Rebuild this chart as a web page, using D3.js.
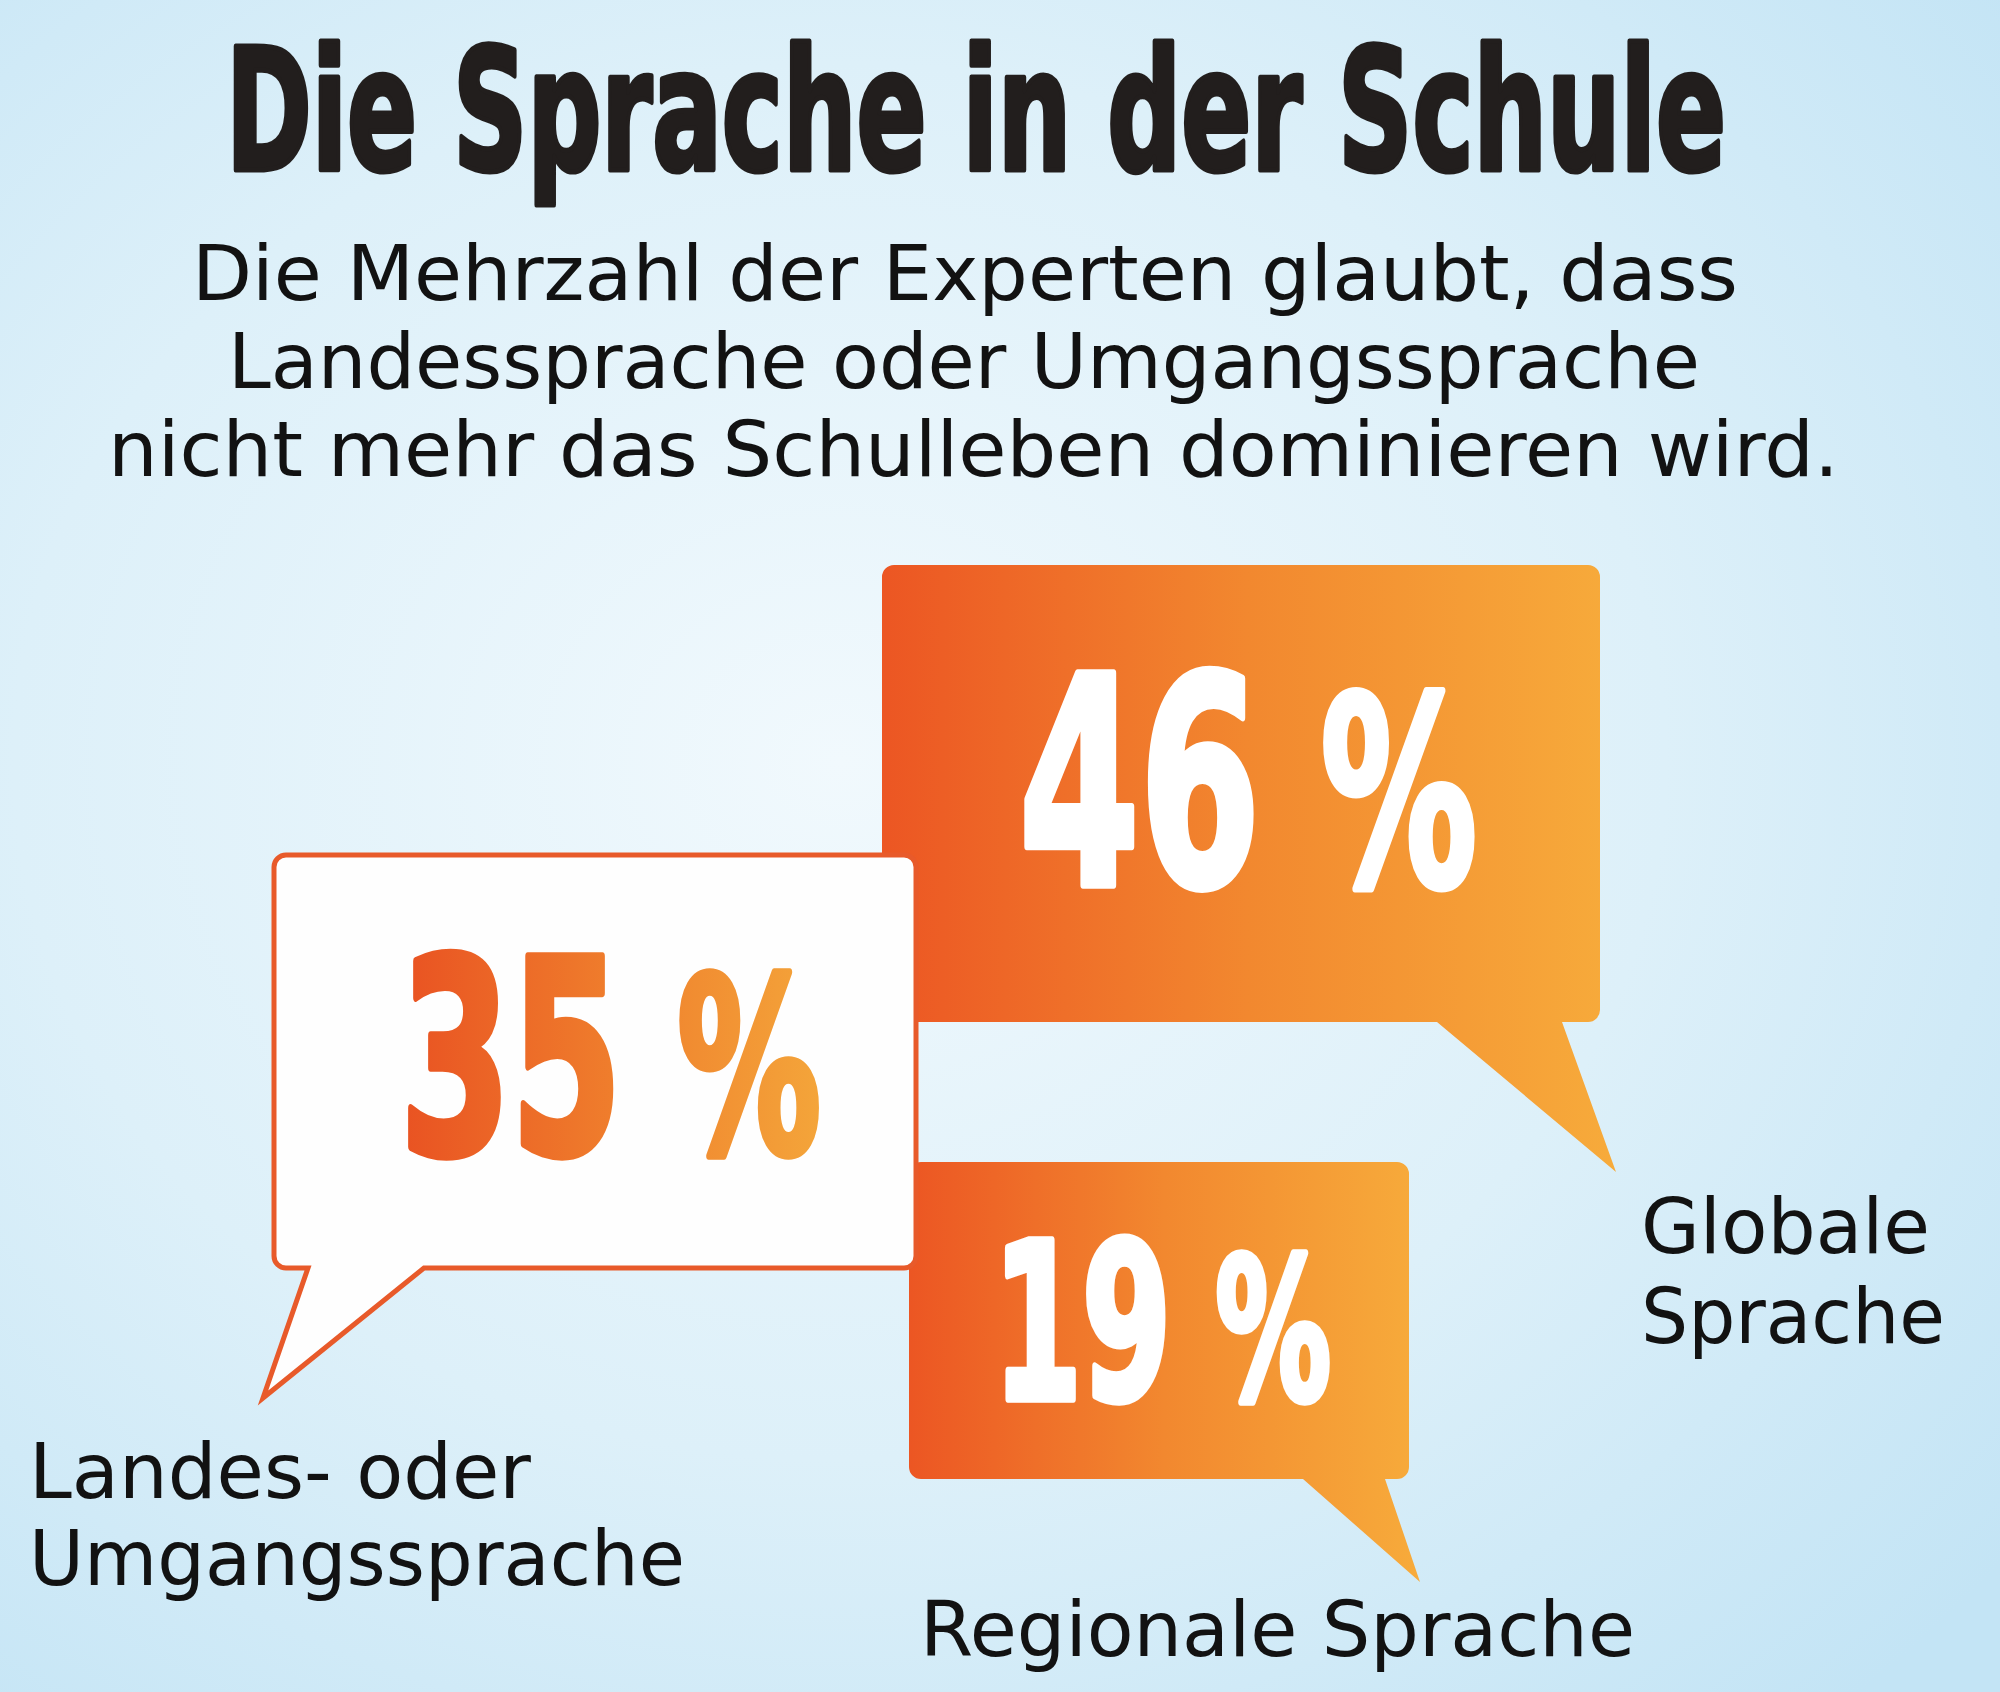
<!DOCTYPE html>
<html lang="de">
<head>
    <meta charset="UTF-8">
    <title>Die Sprache in der Schule</title>
    <script src="https://d3js.org/d3.v7.min.js"></script>
    <style>
        body {
            margin: 0;
            background: #d6edf8;
        }
        svg {
            display: block;
        }
        .body-text {
            font-family: "DejaVu Sans", "Open Sans", sans-serif;
            fill: #121212;
        }
        .heavy {
            font-family: "DejaVu Sans", "Liberation Sans", sans-serif;
            font-weight: bold;
            font-stretch: condensed;
        }
    </style>
</head>
<body>
    <svg id="chart" width="2000" height="1692"></svg>

    <script>
        // chart data
        const categories = ["Globale Sprache", "Landes- oder Umgangssprache", "Regionale Sprache"];
        const values = [46, 35, 19];
        const labelLines = [["Globale", "Sprache"], ["Landes- oder", "Umgangssprache"], ["Regionale Sprache"]];

        const title = "Die Sprache in der Schule";
        const subtitleLines = [
            "Die Mehrzahl der Experten glaubt, dass",
            "Landessprache oder Umgangssprache",
            "nicht mehr das Schulleben dominieren wird."
        ];

        // layout of the speech bubbles (same order as categories)
        // num: [x, baseline, width, cap height] of the "NN %" text
        const bubbles = [
            { x: 882, y: 565, w: 718, h: 457, tail: [1437, 1562, 1616, 1172], style: "orange",
              num: [1019, 885, 458, 212], label: [1641, 1253, 90, [289, 304]] },
            { x: 274, y: 855, w: 642, h: 413, tail: [308, 424, 263, 1398], style: "white",
              num: [400, 1153, 421, 197], label: [29, 1498, 87, [502, 656]] },
            { x: 909, y: 1162, w: 500, h: 317, tail: [1303, 1385, 1420, 1582], style: "orange",
              num: [993, 1399, 338, 159], label: [920, 1656, 0, [715]] }
        ];
        const drawOrder = [0, 2, 1];

        const svg = d3.select("#chart");
        const defs = svg.append("defs");

        // background
        const bg = defs.append("radialGradient").attr("id", "bg")
            .attr("cx", "0.42").attr("cy", "0.45").attr("r", "0.75");
        bg.append("stop").attr("offset", "0").attr("stop-color", "#f1f9fd");
        bg.append("stop").attr("offset", "0.55").attr("stop-color", "#ddf0f9");
        bg.append("stop").attr("offset", "1").attr("stop-color", "#c3e4f5");
        svg.append("rect").attr("width", 2000).attr("height", 1692).attr("fill", "url(#bg)");

        const og = defs.append("linearGradient").attr("id", "orange")
            .attr("x1", "0").attr("x2", "1").attr("y1", "0").attr("y2", "0");
        og.append("stop").attr("offset", "0").attr("stop-color", "#ec5623");
        og.append("stop").attr("offset", "0.5").attr("stop-color", "#f2882f");
        og.append("stop").attr("offset", "1").attr("stop-color", "#f7ab3b");

        const tg = defs.append("linearGradient").attr("id", "numOrange")
            .attr("x1", "0").attr("x2", "1").attr("y1", "0").attr("y2", "0");
        tg.append("stop").attr("offset", "0").attr("stop-color", "#e95222");
        tg.append("stop").attr("offset", "0.5").attr("stop-color", "#ef7d2c");
        tg.append("stop").attr("offset", "1").attr("stop-color", "#f4a53a");

        // heavy condensed text: size the font so it fits the width, then stretch it up to the cap height
        function heavyText(parent, parts, x, y, width, capHeight, fill, strokeW) {
            const t = parent.append("text")
                .attr("class", "heavy")
                .attr("font-size", 100);
            t.selectAll("tspan")
                .data(parts)
                .join("tspan")
                .attr("font-size", d => d.scale + "em")
                .text(d => d.text);
            const natural = t.node().getComputedTextLength();
            const fs = 100 * width / natural;
            const sy = capHeight / (0.729 * fs);
            t.attr("font-size", fs)
                .attr("textLength", width)
                .attr("lengthAdjust", "spacingAndGlyphs")
                .attr("transform", `translate(${x},${y}) scale(1,${sy})`)
                .attr("fill", fill)
                .attr("stroke", fill)
                .attr("stroke-width", strokeW)
                .attr("stroke-linejoin", "round");
            return t;
        }

        // title and subtitle
        heavyText(svg, [{ text: title, scale: 1 }], 226, 170, 1500, 124, "#221e1d", 3.5);

        const subX = [192, 228, 108];
        const subLen = [1546, 1472, 1731];
        svg.selectAll(".sub")
            .data(subtitleLines)
            .join("text")
            .attr("class", "sub body-text")
            .attr("x", (d, i) => subX[i])
            .attr("y", (d, i) => 300 + i * 88)
            .attr("font-size", 76)
            .attr("textLength", (d, i) => subLen[i])
            .attr("lengthAdjust", "spacingAndGlyphs")
            .text(d => d);

        // bubble outline: rounded box with a pointed tail on the bottom edge
        function bubblePath(b) {
            const r = 12;
            const [tl, tr, px, py] = b.tail;
            const p = d3.path();
            p.moveTo(b.x + r, b.y);
            p.arcTo(b.x + b.w, b.y, b.x + b.w, b.y + r, r);
            p.arcTo(b.x + b.w, b.y + b.h, b.x + b.w - r, b.y + b.h, r);
            p.lineTo(tr, b.y + b.h);
            p.lineTo(px, py);
            p.lineTo(tl, b.y + b.h);
            p.arcTo(b.x, b.y + b.h, b.x, b.y + b.h - r, r);
            p.arcTo(b.x, b.y, b.x + r, b.y, r);
            p.closePath();
            return p.toString();
        }

        drawOrder.forEach(i => {
            const b = bubbles[i];
            const white = b.style === "white";
            const g = svg.append("g").attr("class", "bubble");

            g.append("path")
                .attr("d", bubblePath(b))
                .attr("fill", white ? "#fefefe" : "url(#orange)")
                .attr("stroke", white ? "#e85a2a" : "none")
                .attr("stroke-width", white ? 5 : 0);

            const [nx, ny, nw, nh] = b.num;
            heavyText(g, [{ text: values[i] + " ", scale: 1 }, { text: "%", scale: 0.9 }],
                nx, ny, nw, nh, white ? "url(#numOrange)" : "#ffffff", 5);
        });

        // category labels
        bubbles.forEach((b, i) => {
            const [lx, ly, step, lens] = b.label;
            svg.append("text")
                .attr("class", "body-text")
                .attr("font-size", 76)
                .selectAll("tspan")
                .data(labelLines[i])
                .join("tspan")
                .attr("x", lx)
                .attr("y", (d, j) => ly + j * step)
                .attr("textLength", (d, j) => lens[j])
                .attr("lengthAdjust", "spacingAndGlyphs")
                .text(d => d);
        });
    </script>
</body>
</html>
